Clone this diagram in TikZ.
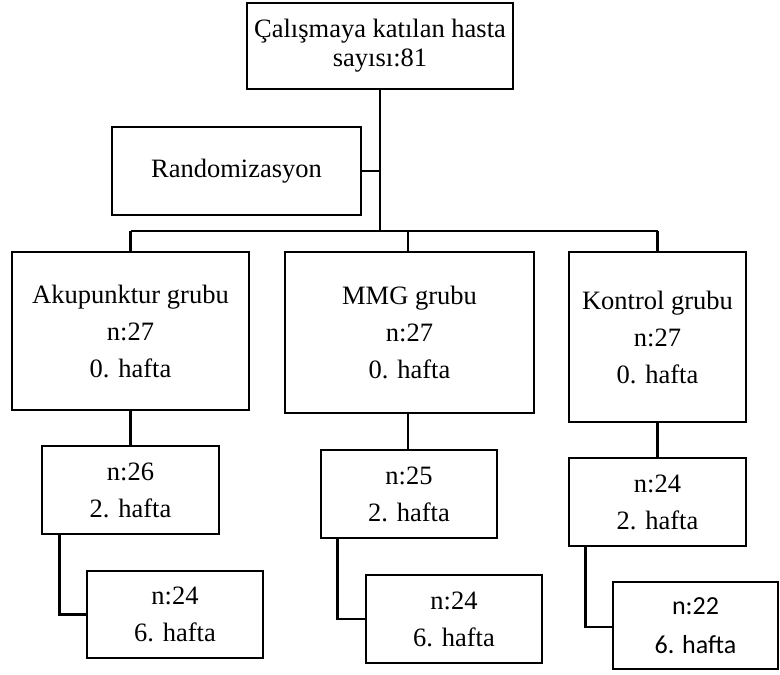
\documentclass[tikz,border=0pt]{standalone}
\usepackage{fontspec}
\setmainfont{Liberation Serif}
\newfontfamily\calibri{Carlito}

\begin{document}
\begin{tikzpicture}[x=1pt, y=-1pt, line width=2.8pt,
		kutu/.style={draw, inner sep=0pt, align=center, font=\fontsize{26.5}{37}\selectfont},
		bag/.style={line width=2.8pt}]
			\useasboundingbox (0,0) rectangle (780,675);

			% Main boxes
			\node[kutu, minimum width=266, minimum height=86, font=\fontsize{26.5}{29}\selectfont] (basla) at (380,46) {Çalışmaya katılan hasta\\sayısı:81};
			\node[kutu, minimum width=249, minimum height=88] (rand) at (236.5,171) {Randomizasyon};

			% Groups, week 0
			\node[kutu, minimum width=237, minimum height=158] (akup) at (130.5,331) {Akupunktur grubu\\n:27\\0. hafta};
			\node[kutu, minimum width=249, minimum height=161] (mmg) at (409.5,332.5) {MMG grubu\\n:27\\0. hafta};
			\node[kutu, minimum width=177, minimum height=170] (kont) at (657.5,337) {Kontrol grubu\\n:27\\0. hafta};

			% Week 2
			\node[kutu, minimum width=177, minimum height=88] (ak2) at (130.5,490) {n:26\\2. hafta};
			\node[kutu, minimum width=176, minimum height=88] (mm2) at (409,494) {n:25\\2. hafta};
			\node[kutu, minimum width=177, minimum height=88] (ko2) at (657.5,502) {n:24\\2. hafta};

			% Week 6
			\node[kutu, minimum width=176, minimum height=87] (ak6) at (175,614.5) {n:24\\6. hafta};
			\node[kutu, minimum width=176, minimum height=88] (mm6) at (454,619) {n:24\\6. hafta};
			\node[kutu, minimum width=165, minimum height=87, font=\calibri\fontsize{26}{39}\selectfont] (ko6) at (695.5,625.5) {n:22\\6. hafta};

			% Trunk and bus
			\coordinate (bol) at (380,231);
			\draw[bag] (basla.south) -- (bol);
			\draw[bag] (rand.east) -- (rand.east -| bol);
			\draw[bag] (akup.north |- bol) -- (kont.north |- bol);
			\draw[bag] (akup.north |- bol) -- (akup.north);
			\draw[bag] ([xshift=-1.5pt]mmg.north |- bol) -- ([xshift=-1.5pt]mmg.north);
			\draw[bag] (kont.north |- bol) -- (kont.north);

			% Follow-up links
			\draw[bag] (akup.south) -- (ak2.north);
			\draw[bag] ([xshift=-1.5pt]mmg.south) -- ([xshift=-1.5pt]mmg.south |- mm2.north);
			\draw[bag] (kont.south) -- (ko2.north);
			\draw[bag] ([xshift=19pt]ak2.south west) |- (ak6.west);
			\draw[bag] ([xshift=18pt]mm2.south west) |- (mm6.west);
			\draw[bag] ([xshift=18pt]ko2.south west) |- ([yshift=-1.5pt]ko6.west);
		\end{tikzpicture}
\end{document}
